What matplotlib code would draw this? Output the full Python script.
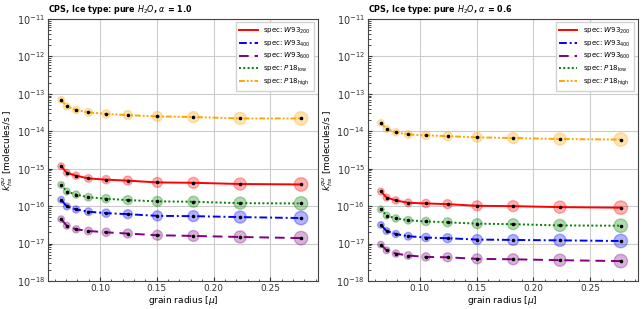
import numpy as np
import matplotlib
matplotlib.use("Agg")
import matplotlib.pyplot as plt

# grain radii [micron]
radius = [0.0656, 0.0706, 0.0788, 0.0897, 0.1053, 0.1244, 0.1505, 0.1823, 0.2235, 0.2772]

# alpha = 1.0
w93_200_a1 = [1.17e-15, 7.8e-16, 6.5e-16, 5.5e-16, 5.1e-16, 4.8e-16, 4.3e-16, 4.2e-16, 3.9e-16, 3.8e-16]
w93_400_a1 = [1.48e-16, 9.8e-17, 8.2e-17, 7.1e-17, 6.5e-17, 6.1e-17, 5.5e-17, 5.4e-17, 5.1e-17, 4.8e-17]
w93_600_a1 = [4.5e-17, 3.0e-17, 2.4e-17, 2.17e-17, 2.0e-17, 1.85e-17, 1.67e-17, 1.6e-17, 1.5e-17, 1.4e-17]
p18_low_a1 = [3.7e-16, 2.46e-16, 2.04e-16, 1.73e-16, 1.58e-16, 1.45e-16, 1.34e-16, 1.31e-16, 1.2e-16, 1.18e-16]
p18_high_a1 = [6.9e-14, 4.6e-14, 3.7e-14, 3.2e-14, 2.9e-14, 2.7e-14, 2.5e-14, 2.4e-14, 2.2e-14, 2.2e-14]

# alpha = 0.6
w93_200_a06 = [2.47e-16, 1.7e-16, 1.42e-16, 1.23e-16, 1.18e-16, 1.13e-16, 1.02e-16, 1.0e-16, 9.4e-17, 9.1e-17]
w93_400_a06 = [3.15e-17, 2.17e-17, 1.8e-17, 1.57e-17, 1.45e-17, 1.39e-17, 1.28e-17, 1.25e-17, 1.22e-17, 1.17e-17]
w93_600_a06 = [9.4e-18, 6.6e-18, 5.4e-18, 4.8e-18, 4.4e-18, 4.3e-18, 3.9e-18, 3.8e-18, 3.6e-18, 3.4e-18]
p18_low_a06 = [8.2e-17, 5.6e-17, 4.7e-17, 4.2e-17, 3.9e-17, 3.7e-17, 3.4e-17, 3.3e-17, 3.05e-17, 3.0e-17]
p18_high_a06 = [1.67e-14, 1.15e-14, 9.4e-15, 8.2e-15, 7.8e-15, 7.4e-15, 6.9e-15, 6.6e-15, 6.2e-15, 6.0e-15]

labels = [r"spec: $W93_{200}$", r"spec: $W93_{400}$", r"spec: $W93_{600}$",
          r"spec: $P18_{\rm low}$", r"spec: $P18_{\rm high}$"]
colors = ["red", "blue", "purple", "green", "orange"]
styles = ["-", (0, (4, 1.5, 1, 1.5)), (0, (5, 3)), (0, (1, 1.2)), (0, (3, 1, 1, 1, 1, 1))]

panels = [
    ("1.0", [w93_200_a1, w93_400_a1, w93_600_a1, p18_low_a1, p18_high_a1]),
    ("0.6", [w93_200_a06, w93_400_a06, w93_600_a06, p18_low_a06, p18_high_a06]),
]

fig = plt.figure(figsize=(6.44, 3.09), dpi=100)
lefts = [0.0745, 0.571]

r = np.array(radius)
sizes = 340 * r

for left, (alpha, series) in zip(lefts, panels):
    ax = fig.add_axes([left, 0.0906, 0.419, 0.848])
    for vals, lab, col, ls in zip(series, labels, colors, styles):
        ax.plot(radius, vals, color=col, linestyle=ls, lw=1.4, label=lab, zorder=2)
        ax.scatter(radius, vals, s=sizes, color=col, alpha=0.3, zorder=1)
        ax.scatter(radius, vals, s=2.5, color="black", zorder=3)
    ax.set_yscale("log")
    ax.set_ylim(1e-18, 1e-11)
    ax.set_xlim(0.054, 0.292)
    ax.set_xticks([0.10, 0.15, 0.20, 0.25])
    ax.xaxis.set_minor_locator(matplotlib.ticker.MultipleLocator(0.01))
    ax.grid(True, which="major", color="#cccccc", lw=0.8)
    ax.set_axisbelow(True)
    ax.tick_params(which="both", direction="in", labelsize=7, colors="#333333", pad=2)
    ax.tick_params(axis="x", labelsize=6.5)
    ax.tick_params(which="major", length=3)
    ax.tick_params(which="minor", length=1.8)
    for sp in ax.spines.values():
        sp.set_color("#444444")
    ax.set_xlabel(r"grain radius [$\mu$]", fontsize=6.5, labelpad=1)
    ax.set_ylabel(r"$k^{qu}_{hs}$ [molecules/s ]", fontsize=6.5, labelpad=1)
    ax.set_title(r"CPS, Ice type: pure $H_2O$, $\alpha$ = " + alpha,
                 fontsize=5.8, fontweight="bold", loc="left", pad=5)
    ax.legend(loc="upper right", fontsize=5, handlelength=2.6, labelspacing=0.35,
              borderpad=0.5, fancybox=False, framealpha=0.9, edgecolor="#cccccc")

fig.savefig("out.png", dpi=100)
